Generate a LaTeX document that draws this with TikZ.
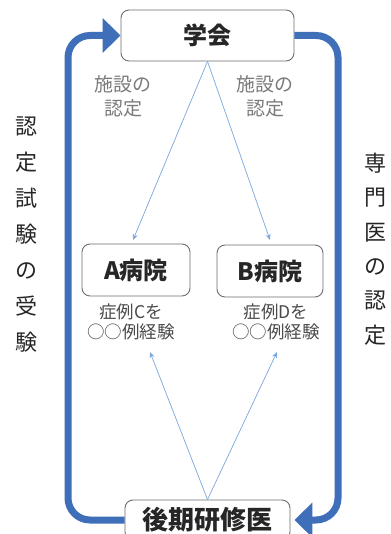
\documentclass[tikz,border=0pt]{standalone}
\usepackage{fontspec}
\setmainfont{Noto Sans CJK JP}
\usetikzlibrary{arrows.meta}
\definecolor{thickblue}{HTML}{3E6FB8}
\definecolor{thinblue}{HTML}{7AA7DE}
\definecolor{boxline}{HTML}{6E6E6E}
\definecolor{labgray}{HTML}{7A7A7A}
\definecolor{casegray}{HTML}{4A4A4A}
\begin{document}
\begin{tikzpicture}[x=1pt,y=-1pt,
  box/.style={draw=boxline, line width=0.9pt, rounded corners=8pt, fill=white, inner sep=0pt, text=black!85},
  bigarrow/.style={draw=thickblue, line width=7pt, rounded corners=22pt, -{Triangle[length=18pt,width=34pt]}},
  thinarrow/.style={draw=thinblue, line width=0.7pt, -{Stealth[length=6pt,width=5pt]}},
  lab/.style={text=labgray, font=\fontsize{19}{24}\selectfont, align=center, inner sep=0pt},
  casetext/.style={text=casegray, font=\fontsize{17.5}{20}\selectfont, align=center, inner sep=0pt},
  boxfont/.style={font=\fontsize{24}{26}\selectfont\bfseries}
]
\useasboundingbox (0,0) rectangle (390,534);
\fill[white] (0,0) rectangle (390,534);

% boxes
\node[box, boxfont, minimum width=173pt, minimum height=51pt] (gakkai) at (207.5,35.5) {学会};
\node[box, boxfont, minimum width=108pt, minimum height=52pt] (ahosp) at (136,270) {A病院};
\node[box, boxfont, minimum width=106pt, minimum height=52pt] (bhosp) at (270,271) {B病院};
\node[box, minimum width=165pt, minimum height=40pt, font=\fontsize{26}{28}\selectfont\bfseries] (kouki) at (207.5,520) {後期研修医};

% texts
\node[lab] (la) at (123,96) {施設の\\認定};
\node[lab] (lb) at (265,96) {施設の\\認定};
\node[casetext] (ca) at (131,322) {症例Cを\\○○例経験};
\node[casetext] (cb) at (276,322) {症例Dを\\○○例経験};
\node[font=\fontsize{22}{36}\selectfont, align=center, inner sep=0pt, text=black!85] (vl) at (27,235) {認\\定\\試\\験\\の\\受\\験};
\node[font=\fontsize{22}{34.4}\selectfont, align=center, inner sep=0pt, text=black!85] (vr) at (375,249) {専\\門\\医\\の\\認\\定};

% thick cycle arrows
\coordinate (lc) at (68,35.5);
\coordinate (rc) at (338,520);
\draw[bigarrow] (kouki.west) -| (lc) -- (gakkai.west);
\draw[bigarrow] (gakkai.east) -| (rc) -- ([xshift=4pt]kouki.east);

% thin arrows
\coordinate (ta) at (133,240);
\coordinate (tb) at (270,240);
\coordinate (ua) at (150,352);
\coordinate (ub) at (277,352);
\draw[thinarrow] (gakkai.south) -- (ta);
\draw[thinarrow] (gakkai.south) -- (tb);
\draw[thinarrow] (kouki.north) -- (ua);
\draw[thinarrow] (kouki.north) -- (ub);
\end{tikzpicture}
\end{document}
